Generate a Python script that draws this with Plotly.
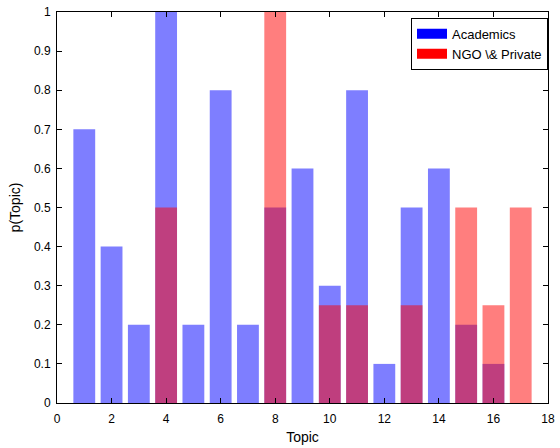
import plotly.graph_objects as go

topics = list(range(1, 18))
academics = [0.7, 0.4, 0.2, 1.0, 0.2, 0.8, 0.2, 0.5, 0.6, 0.3, 0.8, 0.1, 0.5, 0.6, 0.2, 0.1, 0.0]
ngo_private = [0.0, 0.0, 0.0, 0.5, 0.0, 0.0, 0.0, 1.0, 0.0, 0.25, 0.25, 0.0, 0.25, 0.0, 0.5, 0.25, 0.5]
series_names = ["Academics", "NGO \\& Private"]
x_ticks = list(range(0, 19, 2))
y_ticks = [round(i * 0.1, 1) for i in range(11)]
y_tick_labels = ["0" if v == 0 else ("1" if v == 1 else f"{v:.1f}") for v in y_ticks]

font = dict(family="Liberation Sans, Arial, sans-serif", size=12, color="black")

fig = go.Figure()
fig.add_trace(go.Bar(x=topics, y=academics, width=0.8, marker=dict(color="blue", line=dict(width=0)),
                     opacity=0.5, showlegend=False, name=series_names[0]))
fig.add_trace(go.Bar(x=topics, y=ngo_private, width=0.8, marker=dict(color="red", line=dict(width=0)),
                     opacity=0.5, showlegend=False, name=series_names[1]))
# legend swatches (solid rectangles as in the reference)
fig.add_trace(go.Scatter(x=[None], y=[None], mode="lines", line=dict(color="blue", width=13),
                         name=series_names[0]))
fig.add_trace(go.Scatter(x=[None], y=[None], mode="lines", line=dict(color="red", width=13),
                         name=series_names[1]))

fig.update_layout(
    width=560, height=448,
    barmode="overlay",
    plot_bgcolor="white", paper_bgcolor="white",
    margin=dict(l=57, r=12, t=12, b=45),
    font=font,
    legend=dict(x=1, xanchor="right", y=0.985, yanchor="top",
                bordercolor="black", borderwidth=1, bgcolor="white",
                font=dict(family="Liberation Sans, Arial, sans-serif", size=13),
                tracegroupgap=0, itemwidth=30),
)
fig.update_xaxes(range=[0, 18], tickvals=x_ticks, ticks="inside", ticklen=5, tickcolor="black",
                 showline=True, linecolor="black", linewidth=1, mirror="ticks", showgrid=False,
                 zeroline=False, automargin=False, ticklabelstandoff=5,
                 title=dict(text="Topic", standoff=6))
fig.update_yaxes(range=[0, 1], tickvals=y_ticks, ticktext=y_tick_labels, ticks="inside", ticklen=5,
                 tickcolor="black", showline=True, linecolor="black", linewidth=1, mirror="ticks",
                 showgrid=False, zeroline=False, automargin=False, ticklabelstandoff=3,
                 title=dict(text="p(Topic)", standoff=10))

fig.write_html("out.html", config={"displayModeBar": False},
               post_script="document.body.style.margin='0';document.body.style.overflow='hidden';")
